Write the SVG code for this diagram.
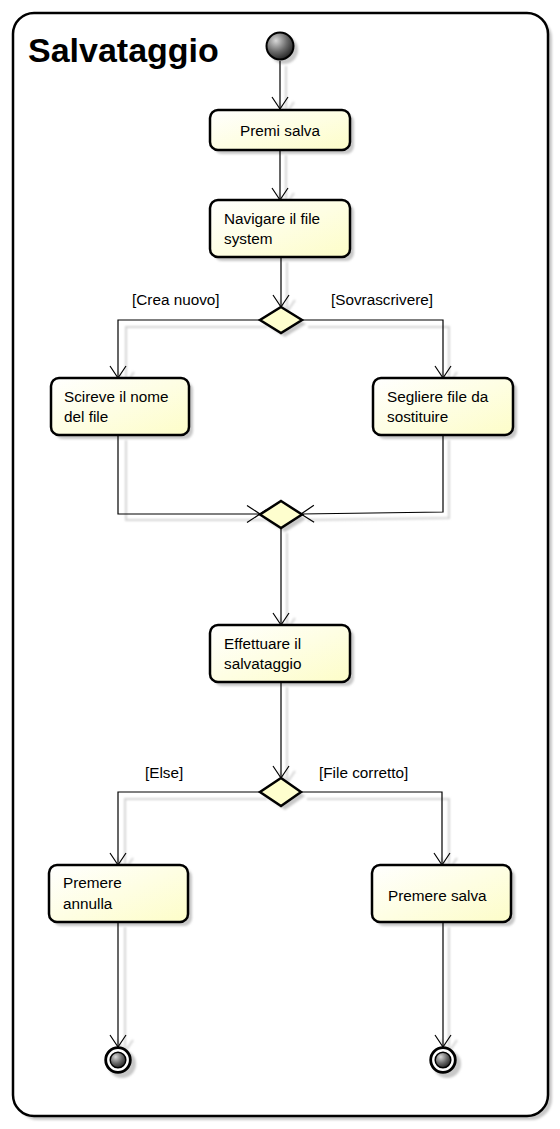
<svg xmlns="http://www.w3.org/2000/svg" width="560" height="1129" viewBox="0 0 560 1129">
<style>
.box{fill:url(#boxFill);stroke:#000;stroke-width:2.5}
.dia{fill:#FEFECE;stroke:#000;stroke-width:2.5}
.sh{fill:#c8c8c8;stroke:none;filter:url(#blur)}
.shl{fill:none;stroke:#d4d4d4;stroke-width:2;filter:url(#blur)}
.ln{fill:none;stroke:#000;stroke-width:1.2}
.t{font-family:"Liberation Sans",Arial,sans-serif;font-size:15.3px;fill:#000}
.title{font-family:"Liberation Sans",Arial,sans-serif;font-size:34px;font-weight:bold;fill:#000}
</style>
<defs>
<linearGradient id="boxFill" x1="0" y1="0" x2="1" y2="1">
<stop offset="0" stop-color="#FFFFFF"/>
<stop offset="1" stop-color="#FDFDC8"/>
</linearGradient>
<radialGradient id="ball" cx="0.35" cy="0.3" r="0.75">
<stop offset="0" stop-color="#d8d8d8"/>
<stop offset="0.55" stop-color="#6a6a6a"/>
<stop offset="1" stop-color="#202020"/>
</radialGradient>
<filter id="blur" x="-20%" y="-20%" width="140%" height="140%"><feGaussianBlur stdDeviation="1.3"/></filter>
<marker id="arr" markerUnits="userSpaceOnUse" markerWidth="30" markerHeight="30" viewBox="-15 -15 30 30" refX="0" refY="0" orient="auto" overflow="visible">
<path d="M-12,-8 L0,0 L-12,8" fill="none" stroke="#000" stroke-width="1.2"/>
</marker>
<marker id="arrX" markerUnits="userSpaceOnUse" markerWidth="40" markerHeight="40" viewBox="-20 -20 40 40" refX="0" refY="0" orient="auto" overflow="visible">
<path d="M-13,-8.5 L6,3.9 M-13,8.5 L6,-3.9" fill="none" stroke="#000" stroke-width="1.2"/>
</marker>
<marker id="arrS" markerUnits="userSpaceOnUse" markerWidth="30" markerHeight="30" viewBox="-15 -15 30 30" refX="0" refY="0" orient="auto" overflow="visible">
<path d="M-12,-8 L0,0 L-12,8" fill="none" stroke="#d4d4d4" stroke-width="2"/>
</marker>
</defs>

<!-- shadows -->
<g id="shadows">
<rect class="sh" x="17" y="17" width="535" height="1103" rx="21"/>
<rect x="13" y="13" width="535" height="1103" rx="21" fill="#fff"/>
<circle class="sh" cx="284" cy="50" r="14"/>
<rect class="sh" x="214" y="114" width="140" height="40" rx="8"/>
<rect class="sh" x="214" y="204" width="140" height="57" rx="8"/>
<polygon class="sh" points="285,311 306,324 285,337 264,324"/>
<rect class="sh" x="55" y="382" width="138" height="57" rx="8"/>
<rect class="sh" x="377" y="382" width="140" height="57" rx="8"/>
<polygon class="sh" points="285,505 306,519 285,532 264,519"/>
<rect class="sh" x="214" y="629" width="140" height="57" rx="8"/>
<polygon class="sh" points="285,782 305,796 285,810 264,796"/>
<rect class="sh" x="53" y="869" width="139" height="57" rx="8"/>
<rect class="sh" x="376" y="869" width="139" height="57" rx="8"/>
<circle class="sh" cx="122" cy="1064" r="14"/>
<circle class="sh" cx="447" cy="1064" r="14"/>
<g class="shl">
<path d="M286,66 V114" marker-end="url(#arrS)"/>
<path d="M286,155 V205" marker-end="url(#arrS)"/>
<path d="M287,262 V312" marker-end="url(#arrS)"/>
<path d="M267,327 H126 V384" marker-end="url(#arrS)"/>
<path d="M308,327 H449 V384"  marker-end="url(#arrS)"/>
<path d="M126,440 V520 H266"/>
<path d="M449,440 V518 L307,520"/>
<path d="M287,533 V630" marker-end="url(#arrS)"/>
<path d="M287,687 V783" marker-end="url(#arrS)"/>
<path d="M267,799 H125 V870" marker-end="url(#arrS)"/>
<path d="M307,799 H449 V870" marker-end="url(#arrS)"/>
<path d="M125,927 V1052" marker-end="url(#arrS)"/>
<path d="M449,927 V1052" marker-end="url(#arrS)"/>
</g>
</g>

<g id="frame">
<rect x="13" y="13" width="535" height="1103" rx="21" fill="none" stroke="#000" stroke-width="2.5"/>
<text class="title" x="28" y="62">Salvataggio</text>
</g>

<g id="connectors">
<path class="ln" d="M280,61 V109" marker-end="url(#arr)"/>
<path class="ln" d="M280,150 V200" marker-end="url(#arr)"/>
<path class="ln" d="M281,257 V307" marker-end="url(#arr)"/>
<path class="ln" d="M260,320 H118 V378" marker-end="url(#arr)"/>
<path class="ln" d="M302,320 H443 V378" marker-end="url(#arr)"/>
<path class="ln" d="M118,435 V514 H260" marker-end="url(#arrX)"/>
<path class="ln" d="M443,435 V512 L301,514" marker-end="url(#arrX)"/>
<path class="ln" d="M281,528 V625" marker-end="url(#arr)"/>
<path class="ln" d="M281,682 V778" marker-end="url(#arr)"/>
<path class="ln" d="M260,792 H118 V865" marker-end="url(#arr)"/>
<path class="ln" d="M301,792 H442 V865" marker-end="url(#arr)"/>
<path class="ln" d="M118,922 V1047" marker-end="url(#arr)"/>
<path class="ln" d="M443,922 V1047" marker-end="url(#arr)"/>
<text class="t" x="132" y="305">[Crea nuovo]</text>
<text class="t" x="331" y="305">[Sovrascrivere]</text>
<text class="t" x="145" y="778">[Else]</text>
<text class="t" x="319" y="778">[File corretto]</text>
</g>

<g id="start">
<circle cx="280" cy="46" r="13.5" fill="url(#ball)" stroke="#000" stroke-width="2"/>
</g>

<g id="premi-salva">
<rect class="box" x="210" y="110" width="140" height="40" rx="8"/>
<text class="t" x="280" y="136" text-anchor="middle">Premi salva</text>
</g>

<g id="navigare">
<rect class="box" x="210" y="200" width="140" height="57" rx="8"/>
<text class="t" x="224" y="224">Navigare il file</text>
<text class="t" x="224" y="244">system</text>
</g>

<g id="decision1">
<polygon class="dia" points="281,307 302,320 281,333 260,320"/>
</g>

<g id="scireve">
<rect class="box" x="51" y="378" width="138" height="57" rx="8"/>
<text class="t" x="64" y="402">Scireve il nome</text>
<text class="t" x="64" y="422">del file</text>
</g>

<g id="segliere">
<rect class="box" x="373" y="378" width="140" height="57" rx="8"/>
<text class="t" x="387" y="402">Segliere file da</text>
<text class="t" x="387" y="422">sostituire</text>
</g>

<g id="merge">
<polygon class="dia" points="281,501 302,514.5 281,528 260,514.5"/>
</g>

<g id="effettuare">
<rect class="box" x="210" y="625" width="140" height="57" rx="8"/>
<text class="t" x="224" y="649">Effettuare il</text>
<text class="t" x="224" y="669">salvataggio</text>
</g>

<g id="decision2">
<polygon class="dia" points="281,778 301,792 281,806 260,792"/>
</g>

<g id="premere-annulla">
<rect class="box" x="49" y="865" width="139" height="57" rx="8"/>
<text class="t" x="63" y="888">Premere</text>
<text class="t" x="63" y="909">annulla</text>
</g>

<g id="premere-salva">
<rect class="box" x="372" y="865" width="139" height="57" rx="8"/>
<text class="t" x="388" y="901">Premere salva</text>
</g>

<g id="end1">
<circle cx="118" cy="1060" r="12.3" fill="#fff" stroke="#000" stroke-width="2.8"/>
<circle cx="118" cy="1060" r="7.8" fill="url(#ball)" stroke="#000" stroke-width="1.5"/>
</g>

<g id="end2">
<circle cx="443" cy="1060" r="12.3" fill="#fff" stroke="#000" stroke-width="2.8"/>
<circle cx="443" cy="1060" r="7.8" fill="url(#ball)" stroke="#000" stroke-width="1.5"/>
</g>
</svg>
